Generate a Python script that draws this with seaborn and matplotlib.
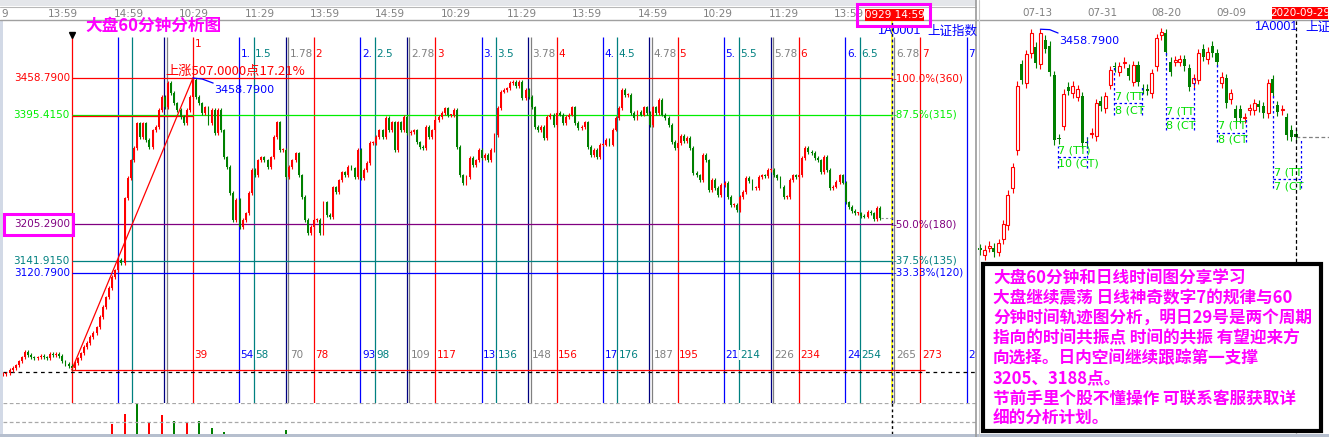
"""
Shanghai Composite 60-minute time-cycle chart next to the daily chart.
"""
import numpy as np
import matplotlib
matplotlib.use("Agg")
from matplotlib import pyplot as plt
from matplotlib.patches import Rectangle
import seaborn as sns

W, H = 1329, 437

# ---------------------------------------------------------------- data
# 60-minute closes, bar -22 .. 260 (bar 0 = cycle low, bar 39 = cycle high)
hourly_first_bar = -22
hourly_close = [
    2945, 2946, 2952, 2955, 2960, 2967, 2974, 2983, 2978, 2974, 2973, 2974,
    2976, 2974, 2973, 2980, 2978, 2980, 2976, 2967, 2962, 2959, 2955,
    2964, 2972, 2981, 2992, 2999, 3009, 3016, 3026, 3044, 3061,
    3078, 3094, 3113, 3125, 3143, 3137, 3250, 3285, 3316, 3337,
    3380, 3356, 3380, 3351, 3339, 3368, 3374, 3403, 3426, 3408,
    3450, 3433, 3415, 3403, 3391, 3380, 3403, 3426, 3455, 3426,
    3415, 3398, 3408, 3380, 3403, 3363, 3403, 3368, 3321, 3304,
    3259, 3212, 3247, 3200, 3212, 3224, 3259, 3299, 3290, 3316,
    3321, 3316, 3304, 3321, 3356, 3382, 3334, 3334, 3287, 3304,
    3316, 3328, 3290, 3252, 3212, 3190, 3200, 3212, 3212, 3190,
    3243, 3221, 3217, 3269, 3261, 3281, 3295, 3290, 3304, 3302,
    3287, 3334, 3285, 3299, 3311, 3346, 3346, 3356, 3368, 3356,
    3389, 3368, 3382, 3334, 3382, 3368, 3391, 3363, 3365, 3368,
    3347, 3339, 3337, 3374, 3356, 3368, 3386, 3391, 3398, 3406,
    3394, 3394, 3403, 3339, 3290, 3276, 3287, 3320, 3308, 3316,
    3334, 3320, 3325, 3316, 3334, 3360, 3407, 3435, 3438, 3441,
    3450, 3452, 3445, 3452, 3424, 3438, 3426, 3408, 3374, 3368,
    3374, 3355, 3391, 3395, 3377, 3398, 3395, 3381, 3391, 3395,
    3408, 3381, 3372, 3374, 3382, 3339, 3325, 3334, 3322, 3343,
    3343, 3351, 3343, 3369, 3389, 3407, 3438, 3429, 3429, 3398,
    3389, 3400, 3395, 3408, 3398, 3377, 3408, 3398, 3421, 3395,
    3389, 3377, 3348, 3337, 3346, 3358, 3349, 3355, 3337, 3294,
    3290, 3282, 3325, 3316, 3264, 3282, 3268, 3256, 3273, 3277,
    3252, 3238, 3238, 3230, 3252, 3261, 3285, 3280, 3268, 3268,
    3287, 3290, 3289, 3299, 3299, 3290, 3285, 3270, 3252, 3252,
    3282, 3290, 3287, 3290, 3320, 3337, 3330, 3329, 3320, 3316,
    3296, 3322, 3299, 3268, 3270, 3278, 3290, 3277, 3243, 3235,
    3228, 3224, 3224, 3219, 3218, 3226, 3224, 3214, 3233, 3216,
]

vol_bars = [13, 17, 21, 25, 29, 33, 37, 41, 45, 49, 69]
vol_values = [10, 20, 34, 11, 19, 13, 11, 13, 6, 2, 4]
vol_up = [True, True, False, True, True, False, True, False, False, False, False]

level_prices = [3458.79, 3395.415, 3205.29, 3141.915, 3120.79]
level_left_labels = ["3458.7900", "3395.4150", "3205.2900", "3141.9150", "3120.7900"]
level_right_labels = ["-100.0%(360)", "-87.5%(315)", "-50.0%(180)", "-37.5%(135)", "-33.33%(120)"]
level_colors = ["#ff0000", "#00ee00", "#800080", "#008080", "#0000ff"]

low_price = 2951.79
high_price = 3458.79
low_bar, high_bar = 0, 39
base_dashed_price = 2948.4
current_bar = 263.8

cycle_red = [0, 39, 78, 117, 156, 195, 234, 273]
cycle_blue = [14.9, 53.9, 92.9, 131.9, 170.9, 209.9, 248.9, 287.9]
cycle_teal = [19.5, 58.5, 97.5, 136.5, 175.5, 214.5, 253.5]
cycle_navy = [29.8, 68.8, 107.8, 146.8, 185.8, 224.8]
cycle_gray = [30.65, 69.65, 108.65, 147.65, 186.65, 225.65, 264.65]

red_top = ["", "1", "2", "3", "4", "5", "6", "7"]
blue_top = ["", "1.", "2.", "3.", "4.", "5.", "6.", "7"]
teal_top = ["", "1.5", "2.5", "3.5", "4.5", "5.5", "6.5"]
gray_top = ["", "1.78", "2.78", "3.78", "4.78", "5.78", "6.78"]
red_bottom = ["", "39", "78", "117", "156", "195", "234", "273"]
blue_bottom = ["", "54", "93", "133", "172", "211", "249", "288"]
teal_bottom = ["", "58", "98", "136", "176", "214", "254"]
gray_bottom = ["", "70", "109", "148", "187", "226", "265"]

time_tick_bars = [-21.6, -2.8, 18.3, 39.3, 60.4, 81.5, 102.5, 123.6, 144.7,
                  165.8, 186.8, 207.9, 229.0, 250.0]
time_tick_labels = ["9", "13:59", "14:59", "10:29", "11:29", "13:59", "14:59",
                    "10:29", "11:29", "13:59", "14:59", "10:29", "11:29", "13:59"]

daily_open = [
    2971, 2956, 2973, 2973, 2964, 2991, 3023, 3105, 3189, 3381, 3339, 3405,
    3420, 3381, 3435, 3422, 3357, 3216, 3244, 3331, 3316, 3309, 3310, 3209,
    3226, 3221, 3300, 3283, 3335, 3377, 3364, 3383, 3372, 3342, 3379, 3327,
    3327, 3316, 3376, 3446, 3450, 3387, 3387, 3387, 3392, 3372, 3339, 3346,
    3416, 3392, 3422, 3405, 3339, 3350, 3303, 3281, 3281, 3261, 3279, 3279,
    3292, 3287, 3272, 3348, 3290, 3279, 3263, 3235, 3226,
]
daily_close = [
    2967, 2968, 2977, 2962, 2982, 3025, 3090, 3152, 3333, 3346, 3403, 3450,
    3383, 3450, 3416, 3364, 3212, 3214, 3315, 3322, 3333, 3325, 3205, 3205,
    3229, 3294, 3287, 3310, 3368, 3374, 3377, 3387, 3355, 3379, 3342, 3325,
    3322, 3361, 3439, 3452, 3409, 3364, 3390, 3392, 3376, 3331, 3350, 3405,
    3398, 3409, 3407, 3387, 3353, 3294, 3316, 3261, 3261, 3263, 3283, 3294,
    3285, 3272, 3339, 3318, 3275, 3281, 3223, 3220, 3218,
]
daily_tick_idx = [12.3, 26.3, 40.2, 54.2]
daily_tick_labels = ["07-13", "07-31", "08-20", "09-09"]
daily_peak_idx = 13

# time-count boxes on the daily chart
box_left = [16.7, 28.9, 39.96, 51.1, 63.1]
box_right = [22.96, 34.9, 46.0, 57.2, 69.0]
box_left_top = [3200, 3376, 3409, 3383, 3316]
box_right_top = [3220, 3335, 3350, 3264, 3216]
box_mid = [3175, 3294, 3261, 3229, 3125]
box_bottom = [3149, 3268, 3235, 3209, 3105]
box_tt = ["7 (TT)", "7 (TT", "7 (TT", "7 (TT", "7 (TT"]
box_ct = ["10 (CT)", "8 (CT", "8 (CT", "8 (CT", "7 (CT"]

notes = [
    "大盘60分钟和日线时间图分享学习",
    "大盘继续震荡 日线神奇数字7的规律与60",
    "分钟时间轨迹图分析，明日29号是两个周期",
    "指向的时间共振点 时间的共振 有望迎来方",
    "向选择。日内空间继续跟踪第一支撑",
    "3205、3188点。",
    "节前手里个股不懂操作 可联系客服获取详",
    "细的分析计划。",
]

RED, GREEN = "#ff0000", "#008000"
MAGENTA = "#ff00ff"
NUM = "DejaVu Sans"

sns.set_style("white")
plt.rcParams['font.family'] = ['Noto Sans CJK SC', 'DejaVu Sans']
plt.rcParams['axes.unicode_minus'] = False

fig = plt.figure(figsize=(W / 100, H / 100), dpi=100)


def fxy(x, y):
    """Pixel position (from top-left) to figure fraction."""
    return x / W, 1 - y / H


def axes_px(x0, y0, x1, y1):
    ax = fig.add_axes([x0 / W, 1 - y1 / H, (x1 - x0) / W, (y1 - y0) / H])
    ax.set_axis_off()
    return ax


def frame(x0, y0, x1, y1, color, lw, fill=None, z=5):
    fig.add_artist(Rectangle(fxy(x0, y1), (x1 - x0) / W, (y1 - y0) / H,
                             transform=fig.transFigure, facecolor=fill or "none",
                             edgecolor=color, linewidth=lw, zorder=z))


def fig_hline(y, x0, x1, color, lw=0.8):
    fig.add_artist(plt.Line2D([x0 / W, x1 / W], [1 - y / H] * 2, color=color,
                              lw=lw, transform=fig.transFigure, zorder=4))


def fig_vline(x, y0, y1, color, lw=0.8):
    fig.add_artist(plt.Line2D([x / W] * 2, [1 - y0 / H, 1 - y1 / H], color=color,
                              lw=lw, transform=fig.transFigure, zorder=4))


ax_v = axes_px(3, 403, 976, 434)
ax_p = axes_px(3, 20, 976, 403)
ax_d = axes_px(978, 20, 1329, 437)

P_TOP, P_BOT = 3559.5, 2894.6
for ax in (ax_p, ax_v):
    ax.set_xlim(-22.1, 290.9)
ax_p.set_ylim(P_BOT, P_TOP)
ax_v.set_ylim(0, 31)
ax_d.set_xlim(-0.43, 75.1)
ax_d.set_ylim(2551.2, 3479.5)

LINE_TOP = 3530       # cycle lines start just under the title row
TOP_LABEL_P = 3500
BOTTOM_LABEL_P = 2978


def draw_hourly():
    close = np.array(hourly_close, float)
    bars = np.arange(hourly_first_bar, hourly_first_bar + len(close))
    opens = np.r_[close[0], close[:-1]]
    colors = np.where(close >= opens, RED, GREEN)
    lo = np.minimum(opens, close)
    hi = np.maximum(opens, close)
    ax_p.vlines(bars, lo - 3, hi + 3, colors=colors, lw=0.8, zorder=4)
    ax_p.bar(bars, np.maximum(hi - lo, 2), bottom=lo, width=0.62, color=colors,
             linewidth=0, zorder=4)

    # time-cycle verticals
    ax_p.vlines(cycle_blue, P_BOT, LINE_TOP, colors="#0000ff", lw=0.9, zorder=2)
    ax_p.vlines(cycle_teal, P_BOT, LINE_TOP, colors="#008080", lw=0.9, zorder=2)
    ax_p.vlines(cycle_navy, P_BOT, LINE_TOP, colors="#000080", lw=0.9, zorder=2)
    ax_p.vlines(cycle_gray, P_BOT, LINE_TOP, colors="#808080", lw=0.9, zorder=2)
    ax_p.vlines(cycle_red, P_BOT, LINE_TOP, colors=RED, lw=0.9, zorder=2)
    ax_p.plot(low_bar, 3533, marker="v", color="black", ms=4.5, zorder=5)

    # current bar marker
    ax_p.vlines(current_bar, P_BOT, P_TOP, colors="#ffff00", lw=1.2, zorder=3)
    ax_p.vlines(current_bar, P_BOT, P_TOP, colors="#000080", lw=1.0,
                linestyles=(0, (2, 2)), zorder=3)
    ax_v.vlines(current_bar, 0, 31, colors="black", lw=1.0,
                linestyles=(0, (2, 2)), zorder=3)

    # price levels
    ax_p.hlines(level_prices, low_bar, current_bar, colors=level_colors, lw=0.9, zorder=3)
    ax_p.hlines(3392.5, low_bar, high_bar, colors=RED, lw=0.9, zorder=3)
    ax_p.hlines(low_price, low_bar, 274.5, colors=RED, lw=0.9, zorder=3)
    ax_p.axhline(base_dashed_price, color="black", lw=0.9, ls=(0, (3, 3)), zorder=3)
    ax_p.hlines(close[-1], bars[-1] + 0.5, current_bar, colors="#909090", lw=0.8,
                linestyles=(0, (2, 2)), zorder=3)
    for p, l, r, c in zip(level_prices, level_left_labels, level_right_labels, level_colors):
        ax_p.text(-0.6, p, l, color=c, fontsize=7.5, family=NUM, ha="right", va="center")
        ax_p.text(263.9, p, r, color=c, fontsize=7.5, family=NUM, ha="left", va="center",
                  zorder=6)

    # rise line and its annotations
    sns.lineplot(x=[low_bar, high_bar], y=[low_price, high_price], color=RED,
                 lw=0.9, ax=ax_p, zorder=5)
    sns.lineplot(x=[high_bar, 42, 45.5], y=[high_price, 3457, 3450], color="#0000ff",
                 lw=0.9, ax=ax_p, zorder=5)
    ax_p.text(30, 3471, "上涨507.0000点17.21%", color=RED, fontsize=9.5, va="center",
              zorder=6)
    ax_p.text(45.8, 3438, "3458.7900", color="#0000ff", fontsize=8, family=NUM,
              va="center", zorder=6)

    # cycle labels
    def put(xs, labels, y, color, boxed):
        for x, s in zip(xs, labels):
            if not s:
                continue
            kw = dict(facecolor="white", edgecolor="none", pad=0.3) if boxed else None
            ax_p.text(x + 0.45, y, s, color=color, fontsize=7.5, family=NUM,
                      va="center", ha="left", clip_on=True, bbox=kw, zorder=6)

    put(cycle_blue, blue_top, TOP_LABEL_P, "#0000ff", False)
    put(cycle_teal, teal_top, TOP_LABEL_P, "#008080", False)
    put(cycle_gray, gray_top, TOP_LABEL_P, "#808080", False)
    put(cycle_red[1:2], red_top[1:2], 3518, RED, False)
    put(cycle_red[2:], red_top[2:], TOP_LABEL_P, RED, False)
    put(cycle_blue, blue_bottom, BOTTOM_LABEL_P, "#0000ff", False)
    put(cycle_teal, teal_bottom, BOTTOM_LABEL_P, "#008080", True)
    put(cycle_gray, gray_bottom, BOTTOM_LABEL_P, "#808080", True)
    put(cycle_red, red_bottom, BOTTOM_LABEL_P, RED, True)

    # volume strip
    ax_v.bar(vol_bars, vol_values, width=0.65,
             color=[RED if u else GREEN for u in vol_up], linewidth=0)
    for v in (12, 30.6):
        ax_v.axhline(v, color="#a8a8a8", lw=0.9, ls=(0, (3, 2)))

    # time axis on top
    tr = ax_p.get_xaxis_transform()
    for b, s in zip(time_tick_bars, time_tick_labels):
        ax_p.text(b, 1.0157, s, transform=tr, color="#808080", fontsize=7.5,
                  family=NUM, ha="center", va="center", clip_on=False)


def draw_daily():
    o = np.array(daily_open, float)
    c = np.array(daily_close, float)
    idx = np.arange(len(o))
    up = c >= o
    lo, hi = np.minimum(o, c), np.maximum(o, c)
    colors = np.where(up, RED, "#007f00")
    ax_d.vlines(idx, lo - 10, hi + 10, colors=colors, lw=0.8, zorder=2)
    ax_d.bar(idx[up], np.maximum(hi - lo, 2)[up], bottom=lo[up], width=0.66,
             facecolor="white", edgecolor=RED, linewidth=0.8, zorder=3)
    ax_d.bar(idx[~up], np.maximum(hi - lo, 2)[~up], bottom=lo[~up], width=0.66,
             color="#007f00", linewidth=0, zorder=3)

    last = idx[-1] + 0.05
    ax_d.axvline(last, color="black", lw=0.9, ls=(0, (3, 2)), zorder=4)
    ax_d.hlines(c[-1], last, 76, colors="#808080", lw=0.9, linestyles=(0, (3, 2)))

    sns.lineplot(x=[daily_peak_idx, 15, 16.8], y=[3459, 3458, 3450.5], color="#0000ff",
                 lw=0.9, ax=ax_d)
    ax_d.text(17, 3432.7, "3458.7900", color="#0000ff", fontsize=8, family=NUM,
              va="center")

    for l, r, lt, rt, m, b, tt, ct in zip(box_left, box_right, box_left_top, box_right_top,
                                          box_mid, box_bottom, box_tt, box_ct):
        ls = (0, (2, 2))
        ax_d.vlines(l, b, lt, colors="#0000ff", lw=0.9, linestyles=ls, zorder=4)
        ax_d.vlines(r, b, rt, colors="#0000ff", lw=0.9, linestyles=ls, zorder=4)
        ax_d.hlines(m, l, r, colors="#0000ff", lw=0.9, linestyles=ls, zorder=4)
        ax_d.text(l + 0.15, m + 15, tt, color="#00dd00", fontsize=8, family=NUM,
                  va="center", zorder=5)
        ax_d.text(l + 0.15, m - 16, ct, color="#00dd00", fontsize=8, family=NUM,
                  va="center", zorder=5)

    tr = ax_d.get_xaxis_transform()
    for i, s in zip(daily_tick_idx, daily_tick_labels):
        ax_d.text(i, 1.0168, s, transform=tr, color="#808080", fontsize=7.5,
                  family=NUM, ha="center", va="center", clip_on=False)


def draw_frame():
    # window chrome
    frame(0, 0, 976, 6, "none", 0, fill="#e4e6ea", z=3)
    fig_hline(6.5, 0, 976, "#b8b8b8")
    fig_hline(20, 0, 1329, "#a0a0a0", lw=1.0)
    frame(0, 20, 3, 437, "none", 0, fill="#d2d9e6", z=3)
    frame(0, 434, 1329, 437, "none", 0, fill="#b6bfce", z=3)
    fig_vline(976.5, 0, 437, "#9a9a9a", lw=1.2)
    fig_vline(978.5, 0, 437, "#c8c8c8", lw=0.8)

    # headers
    fig.text(*fxy(85, 26), "大盘60分钟分析图", color=MAGENTA, fontsize=12,
             fontweight="bold", va="center", zorder=6)
    fig.text(*fxy(877, 31), "1A0001", color="#0000ff", fontsize=9,
             family="Liberation Sans", va="center", zorder=6)
    fig.text(*fxy(927, 31), "上证指数", color="#0000ff", fontsize=9, va="center", zorder=6)
    fig.text(*fxy(1297, 27), "1A0001", color="#0000ff", fontsize=9,
             family="Liberation Sans", ha="right", va="center", zorder=6)
    fig.text(*fxy(1305, 27), "上证", color="#0000ff", fontsize=9, va="center", zorder=6)

    frame(865, 9.5, 924, 20.5, "none", 0, fill=RED, z=7)
    fig.text(*fxy(894.5, 15), "0929 14:59", color="white", fontsize=7.5, family=NUM,
             ha="center", va="center", zorder=8)
    frame(857, 3.5, 930, 26, MAGENTA, 2.2, z=8)
    frame(1272, 6.5, 1328, 19, "none", 0, fill=RED, z=7)
    fig.text(*fxy(1300, 12.8), "2020-09-29", color="white", fontsize=7.5, family=NUM,
             ha="center", va="center", zorder=8)

    frame(4, 213.5, 73, 235, MAGENTA, 2.2, z=8)

    # notes box
    frame(983, 263.5, 1321, 431, "black", 3.0, fill="white", z=9)
    for k, line in enumerate(notes):
        fig.text(*fxy(993, 278 + 20.1 * k), line, color=MAGENTA, fontsize=12,
                 fontweight="bold", va="center", zorder=10)


draw_hourly()
draw_daily()
draw_frame()
fig.savefig("out.png", dpi=100)
